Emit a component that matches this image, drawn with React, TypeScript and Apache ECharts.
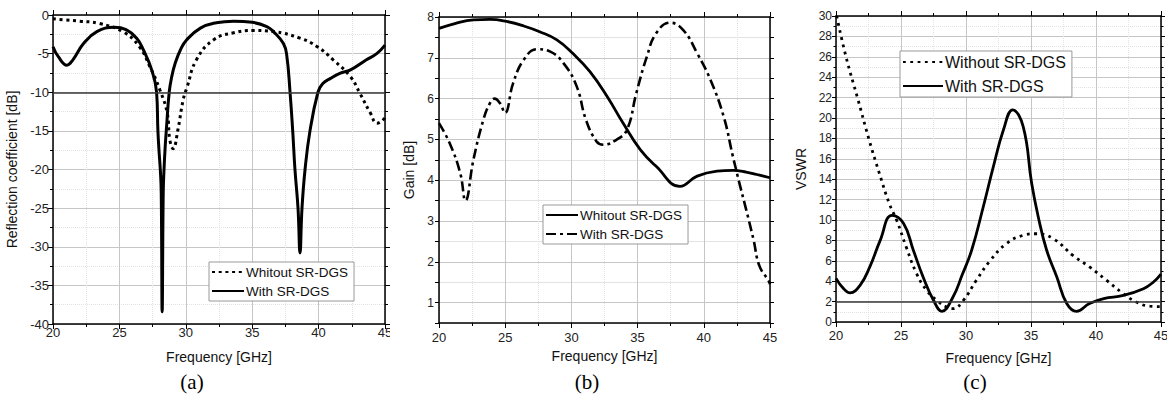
import React, { useEffect, useRef } from 'react';
import * as echarts from 'echarts';

const FONT = '"Liberation Sans", Arial, sans-serif';

// ---------- (a) Reflection coefficient ----------
const freqA_without = [20, 21, 22, 23.5, 25.3, 26.5, 27.3, 28.05, 28.6, 28.8, 29.05, 29.4, 29.8, 30.1, 30.8, 32.1, 33.6, 35.1, 36.6, 38.6, 39.9, 41.1, 42.4, 43.1, 43.9, 44.4, 44.9, 45];
const s11_without = [-0.5, -0.65, -0.8, -1.1, -2.2, -4.1, -6.7, -9.7, -12.7, -16.2, -17.3, -14.9, -11, -9.3, -5.8, -3.2, -2.3, -2.0, -2.15, -3.0, -4.1, -5.8, -8.0, -10.1, -12.7, -14, -13.5, -13];
const freqA_with = [20, 20.4, 21.05, 21.5, 22.3, 23.3, 24.6, 25.5, 26.3, 26.8, 27.43, 27.8, 27.9, 28.0, 28.08, 28.15, 28.22, 28.3, 28.36, 28.45, 28.55, 28.75, 28.94, 29.2, 29.6, 30.07, 31.1, 32.3, 33.6, 35, 36.1, 36.6, 37.35, 37.6, 37.85, 38.05, 38.22, 38.45, 38.6, 38.75, 38.98, 39.35, 39.95, 40.3, 40.9, 41.6, 42.4, 43.6, 44.4, 45];
const s11_with = [-4.1, -5.4, -6.5, -5.8, -3.7, -2.15, -1.6, -1.9, -3.0, -4.5, -7.1, -10, -15, -18, -20, -23, -38.4, -23, -20, -17, -14.5, -10, -8.0, -6.25, -4.5, -3.2, -1.7, -1.0, -0.8, -0.95, -1.5, -2.15, -3.7, -5.2, -10, -15, -20, -25, -30.8, -25, -20, -15, -10, -8.9, -8.2, -7.55, -7.1, -5.8, -4.96, -3.9];
const s11Ref = -10;

// ---------- (b) Gain ----------
const freqB_without = [20, 21.2, 22.6, 23.85, 25.1, 26.4, 27.6, 28.9, 30.1, 31.4, 32.7, 33.9, 35.2, 36.4, 38.2, 39.5, 41.0, 42.2, 43.2, 44.0, 45];
const gain_without = [7.72, 7.84, 7.93, 7.94, 7.89, 7.78, 7.64, 7.44, 7.11, 6.66, 6.05, 5.40, 4.75, 4.34, 3.85, 4.1, 4.22, 4.24, 4.2, 4.14, 4.06];
const freqB_with = [20, 20.8, 21.6, 22.0, 22.6, 23.35, 23.85, 24.2, 24.6, 24.98, 25.6, 26.4, 27.4, 28.4, 29.4, 30.4, 31.1, 31.9, 32.4, 33.4, 34.2, 34.9, 35.7, 36.4, 37.45, 38.45, 39.5, 40.5, 41.5, 42.2, 42.75, 43.2, 43.75, 44.2, 44.9, 45];
const gain_with = [5.40, 4.91, 4.18, 3.5, 4.5, 5.48, 5.89, 6.0, 5.89, 5.65, 6.38, 6.95, 7.21, 7.15, 6.87, 6.30, 5.48, 4.95, 4.87, 4.99, 5.24, 6.13, 7.03, 7.6, 7.86, 7.68, 7.11, 6.46, 5.56, 4.58, 3.85, 3.28, 2.55, 1.9, 1.53, 1.45];

// ---------- (c) VSWR ----------
const freqC_without = [20.05, 20.77, 21.67, 22.56, 23.33, 24.1, 24.67, 25.4, 26.2, 26.97, 27.75, 28.5, 29.0, 29.8, 30.8, 31.85, 33.1, 34.4, 35.4, 36.7, 38.25, 39.5, 40.8, 42.1, 43.1, 44.15, 45];
const vswr_without = [30, 26.0, 21.9, 17.8, 14.6, 11.6, 9.97, 7.35, 4.75, 3.1, 2.13, 1.47, 1.31, 2.13, 4.1, 6.0, 7.67, 8.5, 8.65, 8.17, 6.5, 5.4, 4.1, 2.78, 1.96, 1.55, 1.5];
const freqC_with = [20, 20.56, 21.08, 21.85, 22.6, 23.4, 24.3, 25.2, 25.95, 26.7, 27.5, 28.15, 29.0, 29.7, 30.44, 31.33, 32.1, 32.87, 33.59, 34.4, 35.05, 35.56, 36.2, 36.98, 37.75, 38.5, 39.5, 40.6, 42.1, 43.65, 44.4, 45];
const vswr_with = [4.28, 3.3, 2.86, 3.6, 5.4, 8.0, 10.45, 9.65, 7.03, 4.42, 2.13, 1.05, 2.45, 4.6, 7.06, 11.3, 15.2, 18.8, 20.8, 19.15, 13.6, 10.3, 7.06, 4.43, 1.82, 1.05, 1.82, 2.3, 2.6, 3.26, 3.9, 4.7];
const vswrRef = 2;

const pairs = (xs: number[], ys: number[]) => xs.map((x, i) => [x, ys[i]]);

const MAJOR = '#c6c6c6';
const MINOR = '#e3e3e3';
const SMOOTH = 0.45;

function xAxesFor(nameGap: number, labelMargin: number) {
  const common = {
    type: 'value', min: 20, max: 45, interval: 5,
    axisLine: { show: true, onZero: false, lineStyle: { color: '#000', width: 1.5 } },
    axisTick: { show: true, length: 5, lineStyle: { color: '#000', width: 1 } },
    minorTick: { show: true, splitNumber: 2, length: 3, lineStyle: { color: '#000', width: 1 } },
  };
  return [
    {
      ...common, position: 'bottom',
      axisLabel: { color: '#222', fontSize: 13, fontFamily: FONT, margin: labelMargin },
      splitLine: { show: true, lineStyle: { color: MAJOR, width: 1 } },
      minorSplitLine: { show: true, lineStyle: { color: MINOR, width: 1, type: 'dotted' } },
      name: 'Frequency [GHz]', nameLocation: 'middle', nameGap,
      nameTextStyle: { color: '#111', fontSize: 14, fontFamily: FONT },
    },
    {
      ...common, position: 'top',
      axisLabel: { show: false }, splitLine: { show: false }, minorSplitLine: { show: false },
    },
  ];
}

function panelLabel(text: string, x: number) {
  return [{
    type: 'text', x, y: 382, silent: true,
    style: { text, fontSize: 21, fontFamily: '"Liberation Serif", "Times New Roman", serif', fill: '#000', align: 'center', verticalAlign: 'middle' },
  }];
}

function legendFor(left: number, top: number, names: string[], fontSize: number, itemWidth: number, itemGap: number) {
  return {
    orient: 'vertical', left, top, selectedMode: false,
    itemWidth, itemHeight: 12, itemGap,
    padding: [3, 6, 3, 2],
    borderColor: '#999', borderWidth: 1, backgroundColor: '#fff',
    itemStyle: { opacity: 0 },
    textStyle: { color: '#111', fontSize, fontFamily: FONT, padding: [0, 0, 0, -3] },
    data: names,
  };
}

const refLine = (v: number) => ({
  silent: true, symbol: ['none', 'none'], label: { show: false },
  lineStyle: { color: '#3a3a3a', width: 1.5, type: 'solid' },
  emphasis: { disabled: true },
  data: [{ yAxis: v }],
});

function optionA() {
  const yCommon = {
    type: 'value', min: -40, max: 0, interval: 5,
    axisLine: { show: true, onZero: false, lineStyle: { color: '#000', width: 1.5 } },
    axisTick: { show: true, length: 5, lineStyle: { color: '#000', width: 1 } },
    minorTick: { show: true, splitNumber: 2, length: 3, lineStyle: { color: '#000', width: 1 } },
  };
  return {
    animation: false,
    grid: { left: 53, top: 15, width: 332, height: 309, outerBoundsMode: 'none' },
    xAxis: xAxesFor(26, 2),
    yAxis: [
      {
        ...yCommon, position: 'left',
        axisLabel: { color: '#222', fontSize: 13, fontFamily: FONT, margin: 4 },
        splitLine: { show: true, lineStyle: { color: MAJOR, width: 1 } },
        minorSplitLine: { show: true, lineStyle: { color: MINOR, width: 1, type: 'dotted' } },
        name: 'Reflection coefficient [dB]', nameLocation: 'middle', nameGap: 24,
        nameTextStyle: { color: '#111', fontSize: 14, fontFamily: FONT },
      },
      { ...yCommon, position: 'right', axisLabel: { show: false }, splitLine: { show: false }, minorSplitLine: { show: false } },
    ],
    legend: legendFor(209, 262, ['Whitout SR-DGS', 'With SR-DGS'], 13.5, 32, 5),
    graphic: panelLabel('(a)', 192),
    series: [
      {
        type: 'line', name: 'Whitout SR-DGS', data: pairs(freqA_without, s11_without), symbol: 'none',
        smooth: SMOOTH,
        lineStyle: { color: '#000', width: 3, type: [3, 3.7] }, itemStyle: { color: '#000' },
      },
      {
        type: 'line', name: 'With SR-DGS', data: pairs(freqA_with, s11_with), symbol: 'none',
        smooth: SMOOTH,
        lineStyle: { color: '#000', width: 3 }, itemStyle: { color: '#000' },
        markLine: refLine(s11Ref),
      },
    ],
  };
}

function optionB() {
  const yCommon = {
    type: 'value', min: 0.5, max: 8, interval: 0.5,
    axisLine: { show: true, onZero: false, lineStyle: { color: '#000', width: 1.5 } },
    axisTick: { show: true, length: 4, lineStyle: { color: '#000', width: 1 } },
  };
  return {
    animation: false,
    grid: { left: 49, top: 17, width: 331, height: 306, outerBoundsMode: 'none' },
    xAxis: xAxesFor(25, 8),
    yAxis: [
      {
        ...yCommon, position: 'left',
        axisLabel: {
          color: '#222', fontSize: 12, fontFamily: FONT, margin: 5,
          formatter: (v: number) => (Math.abs(v - Math.round(v)) < 1e-6 ? String(Math.round(v)) : ''),
        },
        splitLine: { show: true, lineStyle: { color: [MINOR, MAJOR], width: 1 } },
        name: 'Gain [dB]', nameLocation: 'middle', nameGap: 11,
        nameTextStyle: { color: '#111', fontSize: 14, fontFamily: FONT },
      },
      { ...yCommon, position: 'right', axisLabel: { show: false }, splitLine: { show: false } },
    ],
    legend: legendFor(153, 205, ['Whitout SR-DGS', 'With SR-DGS'], 13.5, 32, 5),
    graphic: panelLabel('(b)', 197),
    series: [
      {
        type: 'line', name: 'Whitout SR-DGS', data: pairs(freqB_without, gain_without), symbol: 'none',
        smooth: SMOOTH,
        lineStyle: { color: '#000', width: 2.8 }, itemStyle: { color: '#000' },
      },
      {
        type: 'line', name: 'With SR-DGS', data: pairs(freqB_with, gain_with), symbol: 'none',
        smooth: SMOOTH,
        lineStyle: { color: '#000', width: 2.6, type: [10, 4, 3, 4] }, itemStyle: { color: '#000' },
      },
    ],
  };
}

function optionC() {
  const yCommon = {
    type: 'value', min: 0, max: 30, interval: 2,
    axisLine: { show: true, onZero: false, lineStyle: { color: '#000', width: 1.5 } },
    axisTick: { show: true, length: 4, lineStyle: { color: '#000', width: 1 } },
    minorTick: { show: true, splitNumber: 2, length: 2.5, lineStyle: { color: '#000', width: 1 } },
  };
  return {
    animation: false,
    grid: { left: 46, top: 16, width: 325, height: 306, outerBoundsMode: 'none' },
    xAxis: xAxesFor(29, 7),
    yAxis: [
      {
        ...yCommon, position: 'left',
        axisLabel: { color: '#222', fontSize: 12, fontFamily: FONT, margin: 4 },
        splitLine: { show: true, lineStyle: { color: MAJOR, width: 1 } },
        minorSplitLine: { show: true, lineStyle: { color: MINOR, width: 1, type: 'dotted' } },
        name: 'VSWR', nameLocation: 'middle', nameGap: 19,
        nameTextStyle: { color: '#111', fontSize: 14, fontFamily: FONT },
      },
      { ...yCommon, position: 'right', axisLabel: { show: false }, splitLine: { show: false }, minorSplitLine: { show: false } },
    ],
    legend: legendFor(110, 51, ['Without SR-DGS', 'With SR-DGS'], 16, 40, 8),
    graphic: panelLabel('(c)', 185),
    series: [
      {
        type: 'line', name: 'Without SR-DGS', data: pairs(freqC_without, vswr_without), symbol: 'none',
        smooth: SMOOTH,
        lineStyle: { color: '#000', width: 2.8, type: [2.8, 4.5] }, itemStyle: { color: '#000' },
      },
      {
        type: 'line', name: 'With SR-DGS', data: pairs(freqC_with, vswr_with), symbol: 'none',
        smooth: SMOOTH,
        lineStyle: { color: '#000', width: 2.8 }, itemStyle: { color: '#000' },
        markLine: refLine(vswrRef),
      },
    ],
  };
}

export default function App() {
  const refA = useRef<HTMLDivElement>(null);
  const refB = useRef<HTMLDivElement>(null);
  const refC = useRef<HTMLDivElement>(null);

  useEffect(() => {
    const charts: echarts.ECharts[] = [];
    const items: [HTMLDivElement | null, any][] = [
      [refA.current, optionA()],
      [refB.current, optionB()],
      [refC.current, optionC()],
    ];
    for (const [el, opt] of items) {
      if (!el) continue;
      const c = echarts.init(el, null, { renderer: 'svg' });
      c.setOption(opt);
      charts.push(c);
    }
    return () => charts.forEach((c) => c.dispose());
  }, []);

  const box = (left: number, width: number): React.CSSProperties => ({
    position: 'absolute', left, top: 0, width, height: 397, overflow: 'hidden',
  });

  return (
    <div style={{ position: 'absolute', left: 0, top: 0, width: 1167, height: 397, background: '#fff', overflow: 'hidden' }}>
      <div ref={refA} style={box(0, 390)} />
      <div ref={refB} style={box(390, 400)} />
      <div ref={refC} style={box(790, 377)} />
    </div>
  );
}
